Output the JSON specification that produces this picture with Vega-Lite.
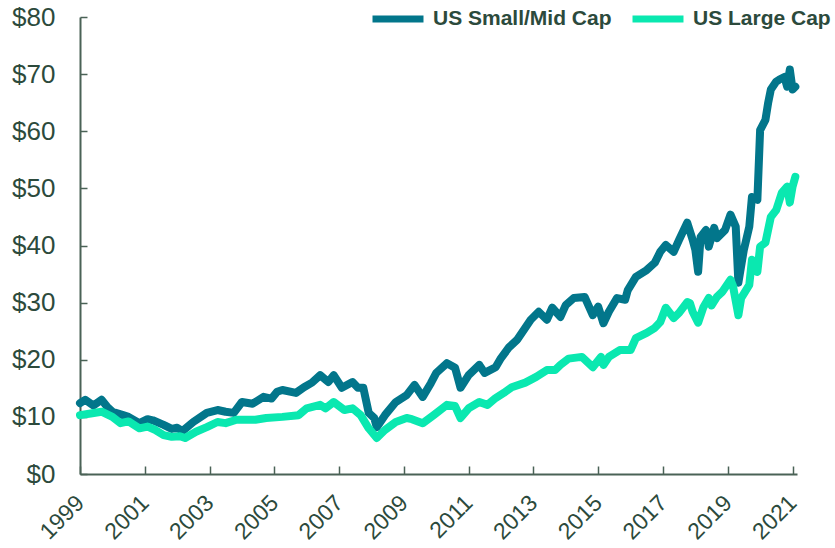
{
  "$schema": "https://vega.github.io/schema/vega-lite/v6.json",
  "width": 717,
  "height": 457,
  "autosize": {"type": "none"},
  "padding": {"left": 80, "top": 17, "right": 38, "bottom": 74},
  "background": "white",
  "config": {
    "view": {"stroke": null},
    "font": "Liberation Sans",
    "axis": {"grid": false, "domainColor": "#4a6256", "tickColor": "#4a6256", "domainWidth": 2, "tickWidth": 1.5, "labelColor": "#2c4a3c", "labelFont": "Liberation Sans", "title": null}
  },
  "data": {
    "values": [
      {"date": "1999-01", "series": "US Small/Mid Cap", "value": 12.4},
      {"date": "1999-03", "series": "US Small/Mid Cap", "value": 13.0},
      {"date": "1999-06", "series": "US Small/Mid Cap", "value": 12.0},
      {"date": "1999-09", "series": "US Small/Mid Cap", "value": 13.0},
      {"date": "1999-11", "series": "US Small/Mid Cap", "value": 11.8},
      {"date": "2000-01", "series": "US Small/Mid Cap", "value": 10.9},
      {"date": "2000-05", "series": "US Small/Mid Cap", "value": 10.3},
      {"date": "2000-07", "series": "US Small/Mid Cap", "value": 10.0},
      {"date": "2000-11", "series": "US Small/Mid Cap", "value": 8.9},
      {"date": "2001-02", "series": "US Small/Mid Cap", "value": 9.6},
      {"date": "2001-04", "series": "US Small/Mid Cap", "value": 9.4},
      {"date": "2001-08", "series": "US Small/Mid Cap", "value": 8.6},
      {"date": "2001-11", "series": "US Small/Mid Cap", "value": 7.9},
      {"date": "2002-01", "series": "US Small/Mid Cap", "value": 8.1},
      {"date": "2002-03", "series": "US Small/Mid Cap", "value": 7.5},
      {"date": "2002-07", "series": "US Small/Mid Cap", "value": 9.1},
      {"date": "2002-12", "series": "US Small/Mid Cap", "value": 10.7},
      {"date": "2003-04", "series": "US Small/Mid Cap", "value": 11.2},
      {"date": "2003-07", "series": "US Small/Mid Cap", "value": 10.9},
      {"date": "2003-10", "series": "US Small/Mid Cap", "value": 10.7},
      {"date": "2004-01", "series": "US Small/Mid Cap", "value": 12.6},
      {"date": "2004-05", "series": "US Small/Mid Cap", "value": 12.3},
      {"date": "2004-09", "series": "US Small/Mid Cap", "value": 13.5},
      {"date": "2004-12", "series": "US Small/Mid Cap", "value": 13.2},
      {"date": "2005-02", "series": "US Small/Mid Cap", "value": 14.4},
      {"date": "2005-04", "series": "US Small/Mid Cap", "value": 14.7},
      {"date": "2005-09", "series": "US Small/Mid Cap", "value": 14.2},
      {"date": "2005-12", "series": "US Small/Mid Cap", "value": 15.2},
      {"date": "2006-03", "series": "US Small/Mid Cap", "value": 16.0},
      {"date": "2006-06", "series": "US Small/Mid Cap", "value": 17.3},
      {"date": "2006-09", "series": "US Small/Mid Cap", "value": 16.1},
      {"date": "2006-11", "series": "US Small/Mid Cap", "value": 17.3},
      {"date": "2007-02", "series": "US Small/Mid Cap", "value": 15.1},
      {"date": "2007-06", "series": "US Small/Mid Cap", "value": 16.1},
      {"date": "2007-08", "series": "US Small/Mid Cap", "value": 15.1},
      {"date": "2007-10", "series": "US Small/Mid Cap", "value": 15.1},
      {"date": "2007-12", "series": "US Small/Mid Cap", "value": 10.7},
      {"date": "2008-02", "series": "US Small/Mid Cap", "value": 9.8},
      {"date": "2008-03", "series": "US Small/Mid Cap", "value": 8.2},
      {"date": "2008-06", "series": "US Small/Mid Cap", "value": 10.3},
      {"date": "2008-10", "series": "US Small/Mid Cap", "value": 12.6},
      {"date": "2009-02", "series": "US Small/Mid Cap", "value": 13.8},
      {"date": "2009-05", "series": "US Small/Mid Cap", "value": 15.6},
      {"date": "2009-08", "series": "US Small/Mid Cap", "value": 13.5},
      {"date": "2009-11", "series": "US Small/Mid Cap", "value": 15.9},
      {"date": "2010-01", "series": "US Small/Mid Cap", "value": 17.7},
      {"date": "2010-05", "series": "US Small/Mid Cap", "value": 19.4},
      {"date": "2010-08", "series": "US Small/Mid Cap", "value": 18.6},
      {"date": "2010-10", "series": "US Small/Mid Cap", "value": 15.1},
      {"date": "2011-01", "series": "US Small/Mid Cap", "value": 17.3},
      {"date": "2011-05", "series": "US Small/Mid Cap", "value": 19.1},
      {"date": "2011-07", "series": "US Small/Mid Cap", "value": 17.7},
      {"date": "2011-11", "series": "US Small/Mid Cap", "value": 18.7},
      {"date": "2012-01", "series": "US Small/Mid Cap", "value": 20.3},
      {"date": "2012-04", "series": "US Small/Mid Cap", "value": 22.2},
      {"date": "2012-07", "series": "US Small/Mid Cap", "value": 23.5},
      {"date": "2012-10", "series": "US Small/Mid Cap", "value": 25.6},
      {"date": "2012-12", "series": "US Small/Mid Cap", "value": 27.0},
      {"date": "2013-03", "series": "US Small/Mid Cap", "value": 28.4},
      {"date": "2013-06", "series": "US Small/Mid Cap", "value": 27.0},
      {"date": "2013-08", "series": "US Small/Mid Cap", "value": 29.1},
      {"date": "2013-11", "series": "US Small/Mid Cap", "value": 27.5},
      {"date": "2014-01", "series": "US Small/Mid Cap", "value": 29.6},
      {"date": "2014-04", "series": "US Small/Mid Cap", "value": 30.8},
      {"date": "2014-08", "series": "US Small/Mid Cap", "value": 31.0},
      {"date": "2014-11", "series": "US Small/Mid Cap", "value": 27.8},
      {"date": "2015-01", "series": "US Small/Mid Cap", "value": 29.3},
      {"date": "2015-03", "series": "US Small/Mid Cap", "value": 26.4},
      {"date": "2015-05", "series": "US Small/Mid Cap", "value": 28.4},
      {"date": "2015-08", "series": "US Small/Mid Cap", "value": 30.8},
      {"date": "2015-11", "series": "US Small/Mid Cap", "value": 30.5},
      {"date": "2015-12", "series": "US Small/Mid Cap", "value": 32.2},
      {"date": "2016-03", "series": "US Small/Mid Cap", "value": 34.5},
      {"date": "2016-07", "series": "US Small/Mid Cap", "value": 35.7},
      {"date": "2016-10", "series": "US Small/Mid Cap", "value": 37.0},
      {"date": "2016-12", "series": "US Small/Mid Cap", "value": 38.9},
      {"date": "2017-02", "series": "US Small/Mid Cap", "value": 40.1},
      {"date": "2017-05", "series": "US Small/Mid Cap", "value": 38.9},
      {"date": "2017-07", "series": "US Small/Mid Cap", "value": 41.0},
      {"date": "2017-10", "series": "US Small/Mid Cap", "value": 44.0},
      {"date": "2017-12", "series": "US Small/Mid Cap", "value": 41.0},
      {"date": "2018-01", "series": "US Small/Mid Cap", "value": 39.2},
      {"date": "2018-02", "series": "US Small/Mid Cap", "value": 35.4},
      {"date": "2018-03", "series": "US Small/Mid Cap", "value": 41.5},
      {"date": "2018-05", "series": "US Small/Mid Cap", "value": 42.7},
      {"date": "2018-06", "series": "US Small/Mid Cap", "value": 39.8},
      {"date": "2018-08", "series": "US Small/Mid Cap", "value": 43.1},
      {"date": "2018-09", "series": "US Small/Mid Cap", "value": 41.3},
      {"date": "2018-12", "series": "US Small/Mid Cap", "value": 42.7},
      {"date": "2019-02", "series": "US Small/Mid Cap", "value": 45.4},
      {"date": "2019-04", "series": "US Small/Mid Cap", "value": 43.3},
      {"date": "2019-05", "series": "US Small/Mid Cap", "value": 33.5},
      {"date": "2019-07", "series": "US Small/Mid Cap", "value": 39.2},
      {"date": "2019-09", "series": "US Small/Mid Cap", "value": 43.3},
      {"date": "2019-10", "series": "US Small/Mid Cap", "value": 48.5},
      {"date": "2019-12", "series": "US Small/Mid Cap", "value": 48.0},
      {"date": "2020-01", "series": "US Small/Mid Cap", "value": 60.2},
      {"date": "2020-03", "series": "US Small/Mid Cap", "value": 62.0},
      {"date": "2020-04", "series": "US Small/Mid Cap", "value": 65.0},
      {"date": "2020-05", "series": "US Small/Mid Cap", "value": 67.3},
      {"date": "2020-07", "series": "US Small/Mid Cap", "value": 68.7},
      {"date": "2020-08", "series": "US Small/Mid Cap", "value": 69.0},
      {"date": "2020-10", "series": "US Small/Mid Cap", "value": 69.5},
      {"date": "2020-11", "series": "US Small/Mid Cap", "value": 67.8},
      {"date": "2020-12", "series": "US Small/Mid Cap", "value": 70.8},
      {"date": "2021-01", "series": "US Small/Mid Cap", "value": 67.3},
      {"date": "2021-02", "series": "US Small/Mid Cap", "value": 67.8},
      {"date": "1999-01", "series": "US Large Cap", "value": 10.3},
      {"date": "1999-05", "series": "US Large Cap", "value": 10.6},
      {"date": "1999-09", "series": "US Large Cap", "value": 10.9},
      {"date": "2000-01", "series": "US Large Cap", "value": 10.0},
      {"date": "2000-04", "series": "US Large Cap", "value": 8.9},
      {"date": "2000-07", "series": "US Large Cap", "value": 9.2},
      {"date": "2000-11", "series": "US Large Cap", "value": 8.0},
      {"date": "2001-02", "series": "US Large Cap", "value": 8.3},
      {"date": "2001-05", "series": "US Large Cap", "value": 7.7},
      {"date": "2001-08", "series": "US Large Cap", "value": 6.8},
      {"date": "2001-11", "series": "US Large Cap", "value": 6.5},
      {"date": "2002-02", "series": "US Large Cap", "value": 6.6},
      {"date": "2002-04", "series": "US Large Cap", "value": 6.3},
      {"date": "2002-08", "series": "US Large Cap", "value": 7.4},
      {"date": "2002-12", "series": "US Large Cap", "value": 8.2},
      {"date": "2003-04", "series": "US Large Cap", "value": 9.1},
      {"date": "2003-07", "series": "US Large Cap", "value": 8.9},
      {"date": "2003-11", "series": "US Large Cap", "value": 9.5},
      {"date": "2004-03", "series": "US Large Cap", "value": 9.5},
      {"date": "2004-06", "series": "US Large Cap", "value": 9.5},
      {"date": "2004-10", "series": "US Large Cap", "value": 9.8},
      {"date": "2005-04", "series": "US Large Cap", "value": 10.0},
      {"date": "2005-10", "series": "US Large Cap", "value": 10.3},
      {"date": "2006-01", "series": "US Large Cap", "value": 11.5},
      {"date": "2006-06", "series": "US Large Cap", "value": 12.1},
      {"date": "2006-08", "series": "US Large Cap", "value": 11.5},
      {"date": "2006-11", "series": "US Large Cap", "value": 12.6},
      {"date": "2007-03", "series": "US Large Cap", "value": 11.2},
      {"date": "2007-06", "series": "US Large Cap", "value": 11.5},
      {"date": "2007-09", "series": "US Large Cap", "value": 10.3},
      {"date": "2007-12", "series": "US Large Cap", "value": 8.0},
      {"date": "2008-03", "series": "US Large Cap", "value": 6.3},
      {"date": "2008-06", "series": "US Large Cap", "value": 7.7},
      {"date": "2008-10", "series": "US Large Cap", "value": 9.1},
      {"date": "2009-02", "series": "US Large Cap", "value": 9.8},
      {"date": "2009-04", "series": "US Large Cap", "value": 9.6},
      {"date": "2009-08", "series": "US Large Cap", "value": 8.9},
      {"date": "2009-12", "series": "US Large Cap", "value": 10.3},
      {"date": "2010-05", "series": "US Large Cap", "value": 12.1},
      {"date": "2010-08", "series": "US Large Cap", "value": 11.9},
      {"date": "2010-10", "series": "US Large Cap", "value": 9.8},
      {"date": "2011-01", "series": "US Large Cap", "value": 11.5},
      {"date": "2011-05", "series": "US Large Cap", "value": 12.6},
      {"date": "2011-08", "series": "US Large Cap", "value": 12.1},
      {"date": "2011-11", "series": "US Large Cap", "value": 13.3},
      {"date": "2012-02", "series": "US Large Cap", "value": 14.2},
      {"date": "2012-05", "series": "US Large Cap", "value": 15.2},
      {"date": "2012-10", "series": "US Large Cap", "value": 16.0},
      {"date": "2013-02", "series": "US Large Cap", "value": 17.0},
      {"date": "2013-06", "series": "US Large Cap", "value": 18.2},
      {"date": "2013-09", "series": "US Large Cap", "value": 18.2},
      {"date": "2013-11", "series": "US Large Cap", "value": 19.1},
      {"date": "2014-02", "series": "US Large Cap", "value": 20.2},
      {"date": "2014-07", "series": "US Large Cap", "value": 20.5},
      {"date": "2014-11", "series": "US Large Cap", "value": 18.7},
      {"date": "2015-02", "series": "US Large Cap", "value": 20.5},
      {"date": "2015-03", "series": "US Large Cap", "value": 19.1},
      {"date": "2015-05", "series": "US Large Cap", "value": 20.5},
      {"date": "2015-09", "series": "US Large Cap", "value": 21.7},
      {"date": "2016-01", "series": "US Large Cap", "value": 21.7},
      {"date": "2016-03", "series": "US Large Cap", "value": 23.8},
      {"date": "2016-07", "series": "US Large Cap", "value": 24.7},
      {"date": "2016-10", "series": "US Large Cap", "value": 25.6},
      {"date": "2016-12", "series": "US Large Cap", "value": 26.6},
      {"date": "2017-02", "series": "US Large Cap", "value": 29.1},
      {"date": "2017-05", "series": "US Large Cap", "value": 27.3},
      {"date": "2017-07", "series": "US Large Cap", "value": 28.2},
      {"date": "2017-10", "series": "US Large Cap", "value": 30.1},
      {"date": "2017-11", "series": "US Large Cap", "value": 29.9},
      {"date": "2017-12", "series": "US Large Cap", "value": 28.4},
      {"date": "2018-02", "series": "US Large Cap", "value": 26.5},
      {"date": "2018-04", "series": "US Large Cap", "value": 29.2},
      {"date": "2018-06", "series": "US Large Cap", "value": 30.8},
      {"date": "2018-07", "series": "US Large Cap", "value": 29.5},
      {"date": "2018-09", "series": "US Large Cap", "value": 31.0},
      {"date": "2018-11", "series": "US Large Cap", "value": 31.9},
      {"date": "2019-02", "series": "US Large Cap", "value": 34.0},
      {"date": "2019-03", "series": "US Large Cap", "value": 32.9},
      {"date": "2019-05", "series": "US Large Cap", "value": 27.8},
      {"date": "2019-06", "series": "US Large Cap", "value": 30.8},
      {"date": "2019-09", "series": "US Large Cap", "value": 33.1},
      {"date": "2019-10", "series": "US Large Cap", "value": 37.5},
      {"date": "2019-12", "series": "US Large Cap", "value": 35.4},
      {"date": "2020-01", "series": "US Large Cap", "value": 39.8},
      {"date": "2020-03", "series": "US Large Cap", "value": 40.5},
      {"date": "2020-05", "series": "US Large Cap", "value": 45.0},
      {"date": "2020-07", "series": "US Large Cap", "value": 46.2},
      {"date": "2020-09", "series": "US Large Cap", "value": 49.2},
      {"date": "2020-11", "series": "US Large Cap", "value": 50.3},
      {"date": "2020-12", "series": "US Large Cap", "value": 47.5},
      {"date": "2021-01", "series": "US Large Cap", "value": 50.3},
      {"date": "2021-02", "series": "US Large Cap", "value": 52.0}
    ]
  },
  "mark": {"type": "line", "strokeWidth": 8, "strokeCap": "round", "strokeJoin": "round"},
  "encoding": {
    "x": {
      "field": "date", "type": "temporal",
      "scale": {"domain": ["1999-01-01", "2021-02-20"]},
      "axis": {
        "values": ["1999-01-01", "2001-01-01", "2003-01-01", "2005-01-01", "2007-01-01", "2009-01-01", "2011-01-01", "2013-01-01", "2015-01-01", "2017-01-01", "2019-01-01", "2021-01-01"],
        "format": "%Y", "labelAngle": -45, "labelAlign": "right", "labelBaseline": "middle",
        "labelFontSize": 23, "tickSize": -8, "labelPadding": 33, "labelOffset": 0, "labelFlush": false, "labelOverlap": false
      }
    },
    "y": {
      "field": "value", "type": "quantitative",
      "scale": {"domain": [0, 80], "nice": false},
      "axis": {"values": [0, 10, 20, 30, 40, 50, 60, 70, 80], "format": "$,.0f", "labelFontSize": 26, "tickSize": -7, "labelPadding": 32}
    },
    "color": {
      "field": "series", "type": "nominal",
      "scale": {"domain": ["US Small/Mid Cap", "US Large Cap"], "range": ["#02768b", "#0ae8b0"]},
      "legend": {
        "title": null, "orient": "none", "direction": "horizontal", "legendX": 289, "legendY": -27,
        "symbolType": "stroke", "symbolSize": 2600, "symbolStrokeWidth": 7, "labelFontSize": 21, "labelFontWeight": "bold", "labelColor": "#2c4a3c",
        "labelOffset": 6, "columnPadding": 6, "padding": 0, "symbolLimit": 0, "labelLimit": 400
      }
    }
  }
}
